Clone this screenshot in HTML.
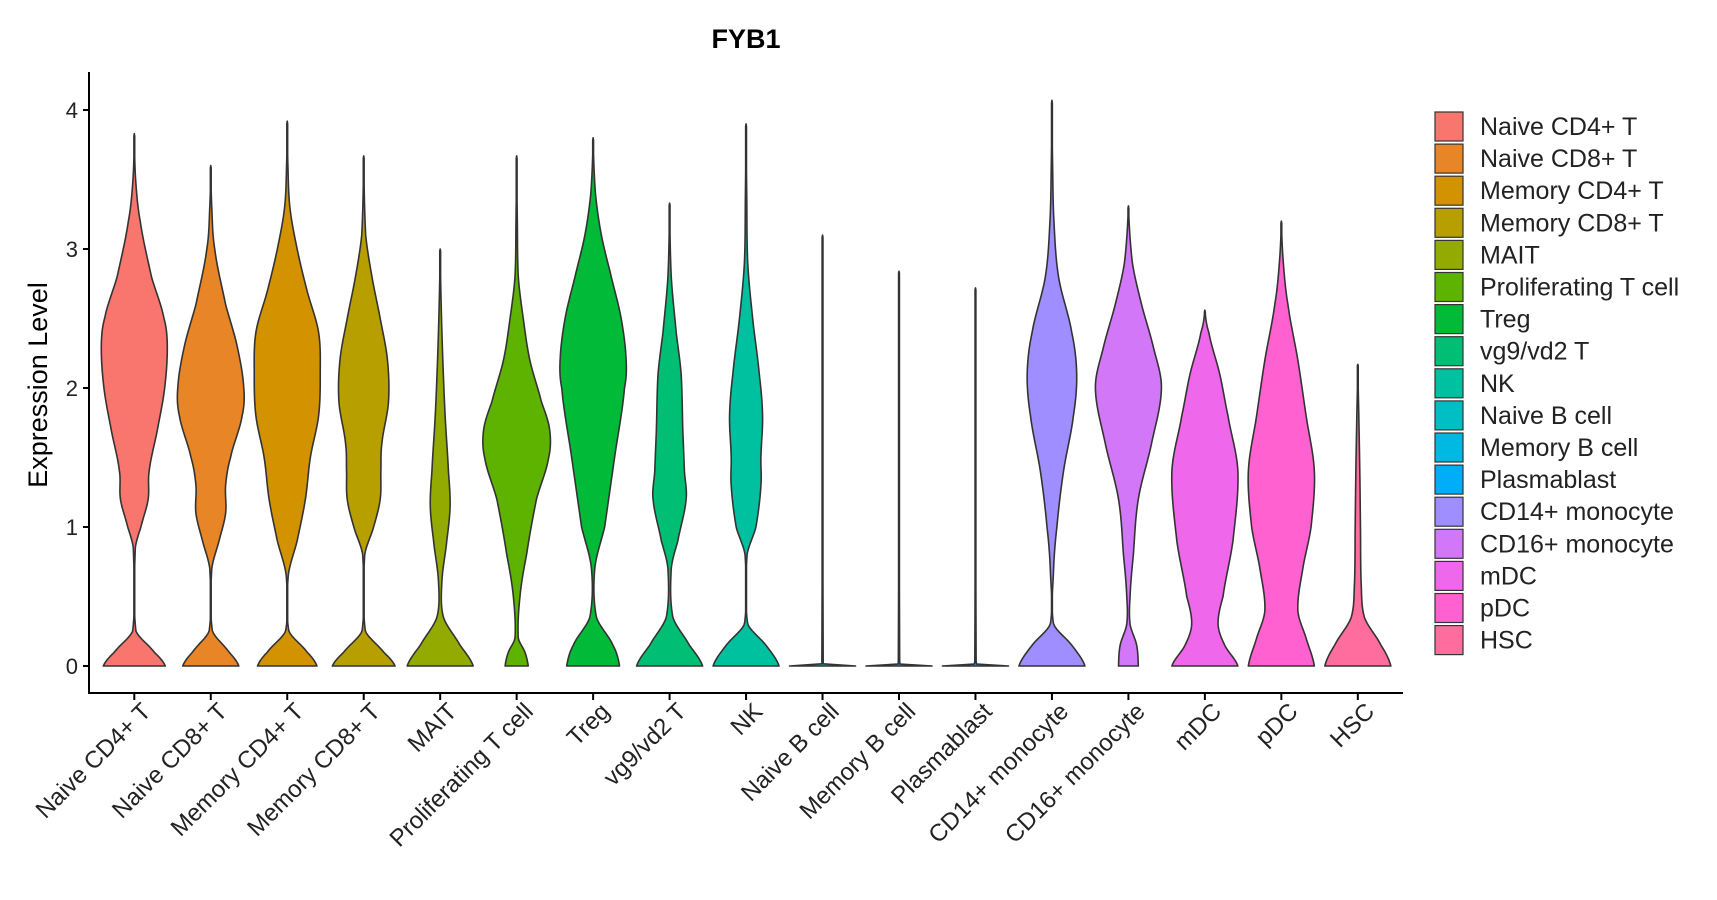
<!DOCTYPE html>
<html><head><meta charset="utf-8"><style>
body{margin:0;background:#fff;}
svg{display:block;font-family:"Liberation Sans","DejaVu Sans",sans-serif;}
</style></head><body>
<svg id="chart" width="1717" height="900" viewBox="0 0 1717 900">
<text x="746" y="48" text-anchor="middle" font-size="27" font-weight="bold" fill="#000">FYB1</text>
<text transform="translate(47,385) rotate(-90)" text-anchor="middle" font-size="27" fill="#000">Expression Level</text>
<g id="plot"></g>
<g id="legend"></g>
</svg>
<script>
const categories=["Naive CD4+ T","Naive CD8+ T","Memory CD4+ T","Memory CD8+ T","MAIT","Proliferating T cell","Treg","vg9/vd2 T","NK","Naive B cell","Memory B cell","Plasmablast","CD14+ monocyte","CD16+ monocyte","mDC","pDC","HSC"];
const colors=["#F8766D","#E88526","#D39200","#B79F00","#93AA00","#5EB300","#00BA38","#00BF74","#00C19F","#00BFC4","#00B9E3","#00ADFA","#9E8EFF","#D177F8","#EF67EB","#FF61D0","#FF6C9E"];
const yTicks=[0,1,2,3,4];
const d0=[[0,0.94],[0.1,0.6],[0.25,0.05],[0.85,0.03],[1.0,0.2],[1.2,0.42],[1.4,0.45],[1.7,0.7],[2.0,0.92],[2.3,1],[2.5,0.9],[2.8,0.52],[3.2,0.18],[3.5,0.04],[3.83,0]];
const d1=[[0,0.85],[0.1,0.55],[0.25,0.05],[0.7,0.03],[0.9,0.25],[1.1,0.45],[1.3,0.45],[1.5,0.6],[1.8,0.95],[2.0,1],[2.3,0.8],[2.6,0.45],[3.0,0.12],[3.3,0.03],[3.6,0]];
const d2=[[0,0.9],[0.1,0.6],[0.25,0.05],[0.65,0.03],[0.9,0.3],[1.2,0.55],[1.5,0.7],[1.8,0.95],[2.1,1],[2.4,0.95],[2.7,0.6],[3.0,0.3],[3.3,0.08],[3.6,0.02],[3.92,0]];
const d3=[[0,0.95],[0.1,0.6],[0.25,0.05],[0.8,0.03],[1.0,0.3],[1.2,0.5],[1.4,0.52],[1.6,0.55],[1.9,0.75],[2.2,0.72],[2.5,0.5],[2.8,0.25],[3.1,0.06],[3.67,0]];
const d4=[[0,1],[0.15,0.6],[0.35,0.1],[0.6,0.05],[0.9,0.2],[1.15,0.3],[1.4,0.25],[1.8,0.15],[2.2,0.08],[2.6,0.03],[3.0,0]];
const d5=[[0,0.35],[0.1,0.25],[0.2,0.05],[0.5,0.1],[0.8,0.3],[1.2,0.6],[1.5,0.97],[1.7,1.0],[1.9,0.75],[2.2,0.4],[2.5,0.2],[2.8,0.05],[3.2,0.02],[3.67,0]];
const d6=[[0,0.8],[0.15,0.6],[0.35,0.1],[0.7,0.05],[1.0,0.35],[1.5,0.65],[2.0,0.95],[2.2,1],[2.5,0.85],[2.8,0.55],[3.1,0.25],[3.4,0.07],[3.8,0]];
const d7=[[0,1],[0.15,0.6],[0.35,0.1],[0.7,0.05],[0.9,0.25],[1.2,0.5],[1.4,0.45],[1.7,0.4],[2.1,0.35],[2.4,0.2],[2.8,0.05],[3.33,0]];
const d8=[[0,1],[0.15,0.6],[0.3,0.05],[0.8,0.03],[1.0,0.3],[1.3,0.45],[1.5,0.45],[1.8,0.5],[2.1,0.4],[2.5,0.2],[2.9,0.05],[3.4,0.02],[3.9,0]];
const d9=[[0,1],[0.01,0.1],[0.03,0.02],[3.1,0]];
const d10=[[0,1],[0.01,0.1],[0.03,0.02],[2.84,0]];
const d11=[[0,1],[0.01,0.1],[0.03,0.02],[2.72,0]];
const d12=[[0,1],[0.15,0.6],[0.3,0.05],[0.7,0.05],[1.0,0.15],[1.4,0.35],[1.8,0.65],[2.1,0.75],[2.4,0.6],[2.8,0.2],[3.2,0.06],[3.6,0.02],[4.07,0]];
const d13=[[0,0.3],[0.15,0.25],[0.3,0.05],[0.5,0.05],[0.8,0.15],[1.2,0.3],[1.6,0.7],[2.0,1],[2.3,0.75],[2.6,0.4],[2.9,0.12],[3.31,0]];
const d14=[[0,1],[0.15,0.6],[0.3,0.4],[0.5,0.55],[0.9,0.85],[1.4,1],[1.8,0.7],[2.1,0.45],[2.4,0.12],[2.56,0]];
const d15=[[0,1],[0.2,0.75],[0.4,0.5],[0.7,0.65],[1.0,0.9],[1.4,1],[1.8,0.75],[2.2,0.5],[2.6,0.2],[2.9,0.06],[3.2,0]];
const d16=[[0,1],[0.15,0.7],[0.35,0.2],[0.6,0.1],[1.0,0.08],[1.4,0.06],[1.8,0.03],[2.17,0]];
const densities=[d0,d1,d2,d3,d4,d5,d6,d7,d8,d9,d10,d11,d12,d13,d14,d15,d16];

const NS="http://www.w3.org/2000/svg";
const X0=89,X1=1403,Y0=72,Y1=693;
const yScale=v=>666-v*139;
const xScale=i=>134.3+i*76.47;
const HALF=33;
const plot=document.getElementById('plot');
function mk(tag,attrs,parent){const e=document.createElementNS(NS,tag);for(const k in attrs)e.setAttribute(k,attrs[k]);(parent||plot).appendChild(e);return e;}
const ya=mk('line',{x1:X0,y1:Y0,x2:X0,y2:Y1+1,stroke:'#000','stroke-width':2});


const xa=mk('line',{x1:X0-1,y1:Y1,x2:X1,y2:Y1,stroke:'#000','stroke-width':2});


yTicks.forEach(t=>{
  const y=yScale(t);
  const tl=mk('line',{x1:X0-6,y1:y,x2:X0,y2:y,stroke:'#000','stroke-width':2});
  
  
  const tx=mk('text',{x:X0-11,y:y+8,'text-anchor':'end','font-size':22,fill:'#222'});
  tx.textContent=t;
  
  
});
function interp(k,y){
  let i=0;while(i<k.length-2&&y>k[i+1][0])i++;
  const p0=k[Math.max(i-1,0)],p1=k[i],p2=k[i+1],p3=k[Math.min(i+2,k.length-1)];
  const t=(y-p1[0])/(p2[0]-p1[0]);
  const t2=t*t,t3=t2*t;
  const v=0.5*((2*p1[1])+(-p0[1]+p2[1])*t+(2*p0[1]-5*p1[1]+4*p2[1]-p3[1])*t2+(-p0[1]+3*p1[1]-3*p2[1]+p3[1])*t3);
  return Math.max(v,0.012);
}
categories.forEach((c,i)=>{
  const k=densities[i],cx=xScale(i),top=k[k.length-1][0];
  const N=200,pts=[];
  for(let j=0;j<=N;j++){const y=top*j/N;pts.push([y,j===N?0:interp(k,y)]);}
  let d='M'+cx+','+yScale(0);
  pts.forEach(p=>{d+='L'+(cx+p[1]*HALF).toFixed(2)+','+yScale(p[0]).toFixed(2);});
  for(let j=pts.length-1;j>=0;j--){const p=pts[j];d+='L'+(cx-p[1]*HALF).toFixed(2)+','+yScale(p[0]).toFixed(2);}
  d+='Z';
  const v=mk('path',{d:d,fill:colors[i],stroke:'#333','stroke-width':1.6,'stroke-linejoin':'round'});
  
  
  const tk=mk('line',{x1:cx,y1:Y1,x2:cx,y2:Y1+7,stroke:'#000','stroke-width':2});
  
  
  const lb=mk('text',{transform:`translate(${cx+6},${Y1+8}) rotate(-45)`,'text-anchor':'end','font-size':24,fill:'#222',dy:'0.7em'});
  lb.textContent=c;
  
  
});
const lg=document.getElementById('legend');
categories.forEach((c,i)=>{
  const y=112+i*32.1;
  const r=mk('rect',{x:1435,y:y,width:28,height:29,fill:colors[i],stroke:'#333','stroke-width':1.2},lg);
  
  
  const t=mk('text',{x:1480,y:y+23,'font-size':25,fill:'#222'},lg);
  t.textContent=c;
  
  
});
</script>
</body></html>
